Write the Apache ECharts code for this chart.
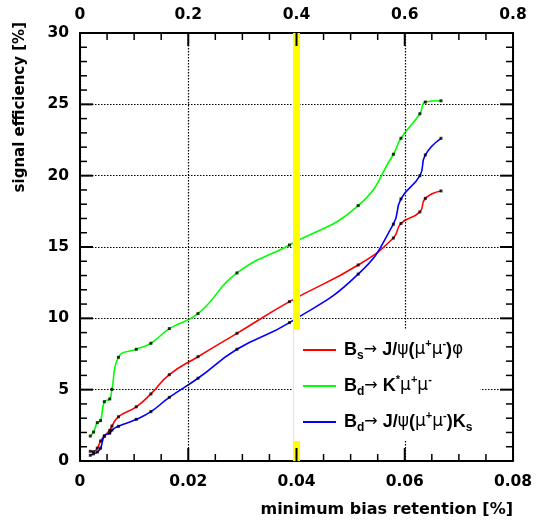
<!DOCTYPE html>
<html><head><meta charset="utf-8">
<script src="https://cdn.jsdelivr.net/npm/echarts@6/dist/echarts.min.js"></script>
<style>html,body{margin:0;padding:0;background:#fff}#c{width:539px;height:522px}</style>
</head><body><div id="c"></div>
<script>
// ---- data ----
const retention = [0.0019, 0.0025, 0.0032, 0.0038, 0.0045, 0.0055, 0.0059, 0.0071, 0.0104, 0.0131,
                   0.0165, 0.0218, 0.0290, 0.0387, 0.0514, 0.0579, 0.0593, 0.0628, 0.0638, 0.0667];
const effBsJpsiPhi = [0.68, 0.65, 0.90, 1.40, 1.75, 2.15, 2.45, 3.10, 3.80, 4.70,
                      6.05, 7.31, 8.95, 11.17, 13.74, 15.63, 16.65, 17.46, 18.41, 18.93];
const effBdKstMuMu = [1.75, 2.03, 2.69, 2.83, 4.16, 4.35, 5.02, 7.27, 7.83, 8.25,
                      9.28, 10.33, 13.18, 15.14, 17.90, 21.50, 22.62, 24.34, 25.16, 25.25];
const effBdJpsiKs  = [0.40, 0.50, 0.63, 0.90, 1.75, 1.95, 2.17, 2.43, 2.92, 3.46,
                      4.46, 5.80, 7.83, 9.70, 13.10, 16.60, 18.37, 20.00, 21.45, 22.62];
const seriesNames = ['Bs', 'BdK', 'BdKs'];
const seriesColors = ['#ff0000', '#00ff00', '#0000ff'];
const bottomTicks = [0, 0.02, 0.04, 0.06, 0.08];
const topTicks = [0, 0.2, 0.4, 0.6, 0.8];
const yTicks = [0, 5, 10, 15, 20, 25, 30];
const cutValue = 0.04;
const xTitle = 'minimum bias retention [%]';
const yTitle = 'signal efficiency [%]';
const legendText = {
  'Bs':   '{t|B}{sub|s}{a|→ }{t|J/}{g|ψ}{t|(}{g|μ}{sup|+}{g|μ}{sup|-}{t|)}{g|φ}',
  'BdK':  '{t|B}{sub|d}{a|→ }{t|K}{sup|*}{g|μ}{sup|+}{g|μ}{sup|-}',
  'BdKs': '{t|B}{sub|d}{a|→ }{t|J/}{g|ψ}{t|(}{g|μ}{sup|+}{g|μ}{sup|-}{t|)K}{sub|s}'
};

(function () {
  const black = '#000';
  const FONT = 'DejaVu Sans';
  const allY = [effBsJpsiPhi, effBdKstMuMu, effBdJpsiKs];
  const mk = ys => retention.map((x, i) => [x, ys[i]]);
  const fmt = list => v => { const t = list.find(u => Math.abs(u - v) < 1e-9); return String(t !== undefined ? t : v); };
  const last = a => a[a.length - 1];
  const xMin = bottomTicks[0], xMax = last(bottomTicks), yMin = yTicks[0], yMax = last(yTicks);
  const MAJOR = 13, MINOR = 7;

  // tick marks (positions come from the tick arrays; drawn through the axis scales)
  const tickItems = [];
  function addTicks(list, kind, sub) {
    list.forEach((v, i) => {
      tickItems.push([v, kind, MAJOR]);
      if (i < list.length - 1) {
        const step = (list[i + 1] - v) / sub;
        for (let j = 1; j < sub; j++) tickItems.push([v + j * step, kind, MINOR]);
      }
    });
  }
  addTicks(bottomTicks, 0, 4);
  addTicks(yTicks, 1, 5);

  const series = [];
  series.push({ type: 'line', data: [], z: 1, silent: true,
    markLine: { silent: true, symbol: ['none', 'none'], label: { show: false },
      lineStyle: { color: '#ffff00', width: 7, type: 'solid' }, data: [{ xAxis: cutValue }] } });
  allY.forEach((ys, k) => series.push({ name: seriesNames[k], type: 'line', data: mk(ys), smooth: 0.5,
    showSymbol: false, z: 2, lineStyle: { color: seriesColors[k], width: 1.6 }, itemStyle: { color: seriesColors[k] } }));
  allY.forEach(ys => series.push({ type: 'scatter', data: mk(ys), symbol: 'rect', symbolSize: 3, z: 4, silent: true,
    itemStyle: { color: black } }));
  series.push({
    type: 'custom', data: tickItems, z: 5, silent: true, clip: false,
    encode: { x: 0, y: 1 },
    renderItem: function (params, api) {
      const v = api.value(0), kind = api.value(1), len = api.value(2);
      const w = len > 10 ? 2 : 1.5;
      const st = () => ({ stroke: black, lineWidth: w, fill: null });
      if (kind === 0) {
        const b = api.coord([v, yMin]), t = api.coord([v, yMax]);
        return { type: 'group', children: [
          { type: 'line', shape: { x1: b[0], y1: b[1], x2: b[0], y2: b[1] - len }, style: st() },
          { type: 'line', shape: { x1: t[0], y1: t[1], x2: t[0], y2: t[1] + len }, style: st() } ] };
      }
      const l = api.coord([xMin, v]), r = api.coord([xMax, v]);
      return { type: 'group', children: [
        { type: 'line', shape: { x1: l[0], y1: l[1], x2: l[0] + len, y2: l[1] }, style: st() },
        { type: 'line', shape: { x1: r[0], y1: r[1], x2: r[0] - len, y2: r[1] }, style: st() } ] };
    }
  });

  const al = () => ({ show: true, onZero: false, lineStyle: { color: black, width: 2 } });
  const sl = () => ({ show: true, lineStyle: { color: black, width: 1.2, type: [1.5, 1.5] } });
  const lab = extra => Object.assign({ color: black, fontFamily: FONT, fontWeight: 'bold', fontSize: 15.5 }, extra);

  const opt = {
    animation: false, backgroundColor: '#fff',
    grid: { left: 80, right: 26, top: 33, bottom: 61 },
    xAxis: [
      { type: 'value', position: 'bottom', z: 3, min: xMin, max: xMax, interval: bottomTicks[1] - bottomTicks[0],
        axisLine: al(), axisTick: { show: false }, minorTick: { show: false }, splitLine: sl(),
        axisLabel: lab({ margin: 13, formatter: fmt(bottomTicks) }) },
      { type: 'value', position: 'top', z: 3, min: topTicks[0], max: last(topTicks), interval: topTicks[1] - topTicks[0],
        axisLine: al(), axisTick: { show: false }, minorTick: { show: false }, splitLine: { show: false },
        axisLabel: lab({ margin: 10, formatter: fmt(topTicks) }) }
    ],
    yAxis: [
      { type: 'value', position: 'left', min: yMin, max: yMax, interval: yTicks[1] - yTicks[0],
        axisLine: al(), axisTick: { show: false }, minorTick: { show: false }, splitLine: sl(),
        axisLabel: lab({ margin: 11 }) },
      { type: 'value', position: 'right', min: yMin, max: yMax, interval: yTicks[1] - yTicks[0],
        axisLine: al(), axisTick: { show: false }, minorTick: { show: false }, splitLine: { show: false },
        axisLabel: { show: false } }
    ],
    legend: { show: true, orient: 'vertical', left: 294, top: 330, padding: [8, 8, 7, 9], itemGap: 12,
      itemWidth: 33, itemHeight: 2, icon: 'rect', backgroundColor: '#fff', z: 6, data: seriesNames,
      formatter: n => legendText[n],
      textStyle: { padding: [0, 0, 0, 3], rich: {
        t: { fontFamily: 'Liberation Sans', fontWeight: 'bold', fontSize: 18, color: black, lineHeight: 24 },
        a: { fontFamily: 'DejaVu Sans', fontSize: 16, color: black, lineHeight: 24 },
        g: { fontFamily: 'DejaVu Sans', fontSize: 17, color: black, lineHeight: 24 },
        sup: { fontFamily: 'Liberation Sans', fontWeight: 'bold', fontSize: 11, color: black, lineHeight: 10, verticalAlign: 'top' },
        sub: { fontFamily: 'Liberation Sans', fontWeight: 'bold', fontSize: 12, color: black, lineHeight: 8, verticalAlign: 'bottom' } } } },
    graphic: [
      { type: 'text', x: 513, y: 510, z: 10, style: { text: xTitle, font: 'bold 16px "DejaVu Sans"', fill: black, align: 'right', verticalAlign: 'middle' } },
      { type: 'text', x: 20, y: 22, rotation: Math.PI / 2, z: 10, style: { text: yTitle, font: 'bold 15px "DejaVu Sans"', fill: black, align: 'right', verticalAlign: 'middle' } }
    ],
    series: series
  };
  echarts.init(document.getElementById('c')).setOption(opt);
})();
</script></body></html>
